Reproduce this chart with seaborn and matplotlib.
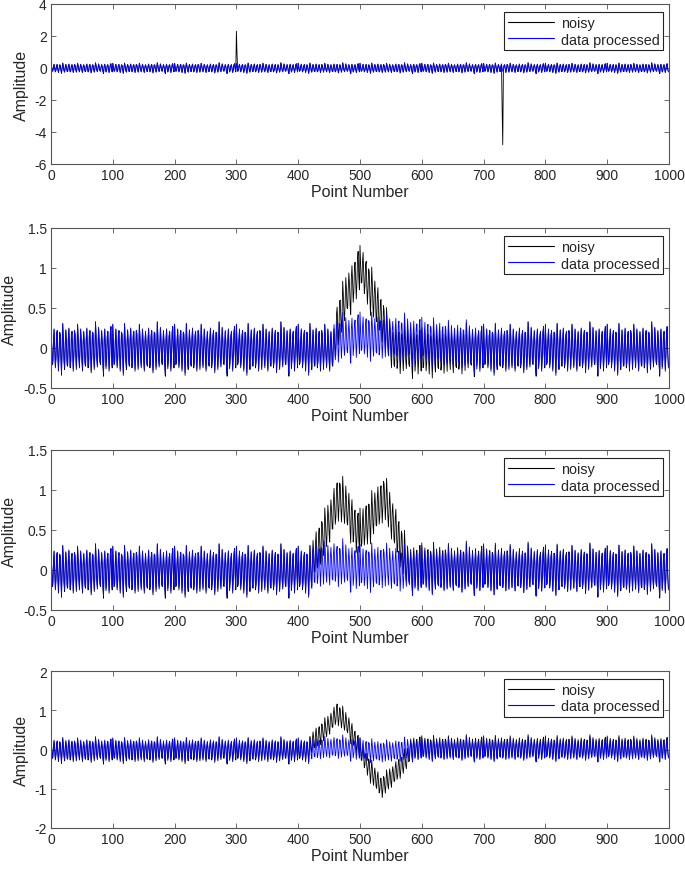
import numpy as np
import pandas as pd
import matplotlib
matplotlib.use("Agg")
import matplotlib.pyplot as plt
from matplotlib.lines import Line2D
import seaborn as sns

# ---------------- data ----------------
n_points = 1000
x_ticks = list(range(0, 1001, 100))
series_names = ["noisy", "data processed"]
series_colors = ["black", "blue"]

# one 100-point stretch of the periodic interference seen in every panel
osc_unit = [
    0.30, 0.04, -0.18, -0.16, 0.10,
    0.24, 0.00, -0.22, -0.12, 0.16,
    0.22, -0.06, -0.26, -0.06, 0.20,
    0.18, -0.10, -0.31, 0.02, 0.31,
    0.12, -0.14, -0.24, 0.06, 0.23,
    0.08, -0.18, -0.20, 0.12, 0.25,
    0.03, -0.22, -0.15, 0.16, 0.21,
    -0.02, -0.26, -0.08, 0.22, 0.18,
    -0.06, -0.24, -0.03, 0.30, 0.14,
    -0.10, -0.22, 0.02, 0.24, 0.10,
    -0.14, -0.26, 0.08, 0.21, 0.05,
    -0.18, -0.20, 0.12, 0.25, 0.02,
    -0.22, -0.15, 0.16, 0.22, -0.03,
    -0.28, -0.10, 0.20, 0.19, -0.07,
    -0.24, -0.05, 0.33, 0.15, -0.11,
    -0.21, 0.00, 0.26, 0.11, -0.15,
    -0.18, 0.05, 0.22, 0.07, -0.19,
    -0.32, 0.10, 0.24, 0.03, -0.23,
    -0.12, 0.15, 0.21, -0.01, -0.26,
    -0.08, 0.20, 0.27, -0.05, -0.22,
]
noisy_gain = 1.04
noisy_shift = -0.02

# panel 1: impulse spikes in the noisy record
p1_spike_idx = [300, 301, 730, 731]
p1_spike_val = [2.30, 0.90, -2.60, -4.80]

# panels 2-4: baseline of noisy / processed records (knots: point, amplitude)
p2_noisy_x = [0, 458, 462, 480, 502, 525, 553, 600, 700, 1000]
p2_noisy_y = [0, 0, 0.28, 0.70, 1.02, 0.60, 0.0, -0.04, 0, 0]
p2_proc_x = [0, 455, 462, 500, 560, 640, 700, 1000]
p2_proc_y = [0, 0, 0.10, 0.15, 0.12, 0.05, 0, 0]

p3_noisy_x = [0, 420, 424, 445, 465, 482, 497, 518, 540, 558, 577, 1000]
p3_noisy_y = [0, 0, 0.15, 0.52, 0.92, 0.75, 0.45, 0.68, 0.92, 0.52, 0.05, 0]
p3_proc_x = [0, 420, 428, 460, 500, 540, 580, 1000]
p3_proc_y = [0, 0, 0.05, 0.08, 0.02, 0.04, 0, 0]

p4_noisy_x = [0, 418, 422, 445, 463, 482, 500, 518, 535, 555, 578, 582, 1000]
p4_noisy_y = [-0.02, -0.02, 0.20, 0.55, 0.95, 0.60, 0.0, -0.55, -0.95, -0.60, -0.20, 0.06, 0.05]
p4_proc_x = [0, 420, 460, 500, 535, 580, 1000]
p4_proc_y = [0, 0, 0.06, 0, -0.06, 0, 0]

y_limits = [(-6, 4), (-0.5, 1.5), (-0.5, 1.5), (-2, 2)]
y_ticks = [[-6, -4, -2, 0, 2, 4],
           [-0.5, 0, 0.5, 1, 1.5],
           [-0.5, 0, 0.5, 1, 1.5],
           [-2, -1, 0, 1, 2]]
y_ticklabels = [["-6", "-4", "-2", "0", "2", "4"],
                ["-0.5", "0", "0.5", "1", "1.5"],
                ["-0.5", "0", "0.5", "1", "1.5"],
                ["-2", "-1", "0", "1", "2"]]

# ---------------- build the series ----------------
pts = np.arange(n_points)
osc = np.tile(np.array(osc_unit), n_points // len(osc_unit))

panels = []
noisy1 = osc * noisy_gain + noisy_shift
noisy1[p1_spike_idx] = p1_spike_val
panels.append((noisy1, osc.copy()))
for nx, ny, px, py in [(p2_noisy_x, p2_noisy_y, p2_proc_x, p2_proc_y),
                       (p3_noisy_x, p3_noisy_y, p3_proc_x, p3_proc_y),
                       (p4_noisy_x, p4_noisy_y, p4_proc_x, p4_proc_y)]:
    noisy = osc * noisy_gain + noisy_shift + np.interp(pts, nx, ny)
    proc = osc + np.interp(pts, px, py)
    panels.append((noisy, proc))

# ---------------- plotting ----------------
sns.set_theme(style="white")
plt.rcParams['font.family'] = ['Liberation Sans', 'DejaVu Sans']
plt.rcParams['axes.unicode_minus'] = False

fig = plt.figure(figsize=(6.85, 8.70), dpi=100)
W, H = 685.0, 870.0
left, right = 51, 669
tops = [5, 229, 451, 672]
bottoms = [165, 389, 611, 829]

text_color = "#262626"
spine_color = "#555555"
line_widths = [0.6, 0.6]

for i, (noisy, proc) in enumerate(panels):
    ax_w = right - left
    ax_h = bottoms[i] - tops[i]
    ax = fig.add_axes([left / W, 1 - bottoms[i] / H, ax_w / W, ax_h / H])
    df = pd.DataFrame({"Point": pts, "noisy": noisy, "data processed": proc})
    for name, col, lw in zip(series_names, series_colors, line_widths):
        sns.lineplot(data=df, x="Point", y=name, ax=ax, color=col,
                     linewidth=lw, estimator=None, sort=False, legend=False)
    ax.set_xlim(0, 1000)
    ax.set_ylim(*y_limits[i])
    ax.set_xticks(x_ticks)
    ax.set_xticklabels([str(t) for t in x_ticks])
    ax.set_yticks(y_ticks[i])
    ax.set_yticklabels(y_ticklabels[i])
    ax.tick_params(axis="both", direction="in", length=3.6, width=0.6,
                   top=True, right=True, bottom=True, left=True,
                   color=spine_color, labelcolor=text_color, labelsize=10, pad=3)
    for sp in ax.spines.values():
        sp.set_visible(True)
        sp.set_color(spine_color)
        sp.set_linewidth(0.8)
    ax.set_xlabel("Point Number", fontsize=11.5, color=text_color, labelpad=1)
    ax.set_ylabel("Amplitude", fontsize=11.5, color=text_color, labelpad=4)
    handles = [Line2D([], [], color=c, linewidth=0.8) for c in series_colors]
    leg = ax.legend(handles, series_names, loc="upper right",
                    bbox_to_anchor=(1 - 6 / ax_w, 1 - 8 / ax_h),
                    fontsize=10.4, frameon=True, fancybox=False,
                    edgecolor="#222222", framealpha=1, borderaxespad=0,
                    handlelength=3.2, handletextpad=0.45, labelspacing=0.2,
                    borderpad=0.25)
    leg.get_frame().set_linewidth(0.8)
    for t in leg.get_texts():
        t.set_color(text_color)

fig.savefig("out.png", dpi=100)
